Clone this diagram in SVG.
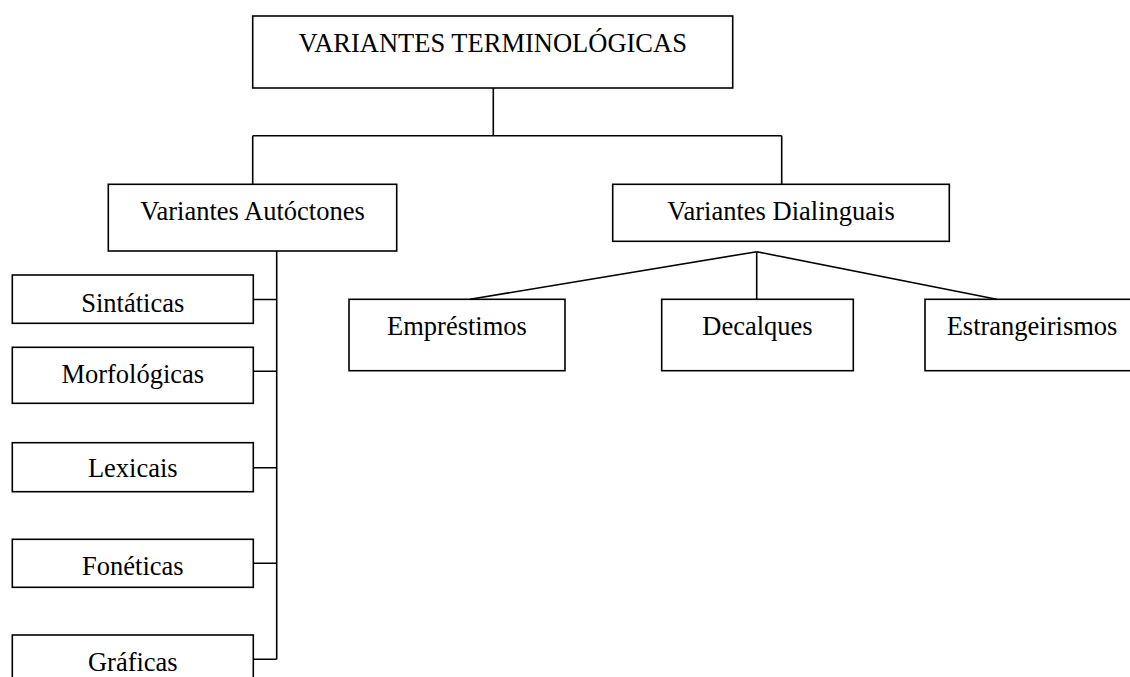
<svg xmlns="http://www.w3.org/2000/svg" width="1130" height="677" viewBox="0 0 1130 677">
  <style>
    .box { fill: #ffffff; stroke: #000000; stroke-width: 1.6; }
    .lbl { font-family: "Liberation Serif", "Times New Roman", serif; font-size: 26.5px; fill: #000000; text-anchor: middle; }
    .wire { fill: none; stroke: #000000; stroke-width: 1.6; }
  </style>
  <rect width="1130" height="677" fill="#ffffff"/>

  <!-- connectors -->
  <g id="connectors">
    <path class="wire" d="M493.3,88 V135.7 M252.7,135.7 H781.7 M252.7,135.7 V184.3 M781.7,135.7 V184.3"/>
    <path class="wire" d="M276.7,251 V659.3 M253.3,299.5 H276.7 M253.3,371.3 H276.7 M253.3,467.8 H276.7 M253.3,563.3 H276.7 M253.3,659.3 H276.7"/>
    <path class="wire" d="M756.7,251.7 L470,299.3 M756.7,251.7 V299.3 M756.7,251.7 L996.7,299.3"/>
  </g>

  <!-- root -->
  <g id="root">
    <rect class="box" x="252.7" y="16" width="480" height="72"/>
    <text class="lbl" x="492.7" y="51.7">VARIANTES TERMINOLÓGICAS</text>
  </g>

  <!-- second level -->
  <g id="autoctones">
    <rect class="box" x="108.3" y="184.3" width="288.4" height="66.7"/>
    <text class="lbl" x="252.5" y="220">Variantes Autóctones</text>
  </g>
  <g id="dialinguais">
    <rect class="box" x="612.7" y="184.3" width="336.6" height="57"/>
    <text class="lbl" x="781" y="220">Variantes Dialinguais</text>
  </g>

  <!-- autochthonous subtypes -->
  <g id="sintaticas">
    <rect class="box" x="12.3" y="275" width="241" height="48.3"/>
    <text class="lbl" x="132.8" y="311.7">Sintáticas</text>
  </g>
  <g id="morfologicas">
    <rect class="box" x="12.3" y="347.3" width="241" height="56"/>
    <text class="lbl" x="132.8" y="383.3">Morfológicas</text>
  </g>
  <g id="lexicais">
    <rect class="box" x="12.3" y="442.7" width="241" height="49"/>
    <text class="lbl" x="132.8" y="477.3">Lexicais</text>
  </g>
  <g id="foneticas">
    <rect class="box" x="12.3" y="539.3" width="241" height="48"/>
    <text class="lbl" x="132.8" y="575">Fonéticas</text>
  </g>
  <g id="graficas">
    <rect class="box" x="12.3" y="635" width="241" height="70"/>
    <text class="lbl" x="132.8" y="670.7">Gráficas</text>
  </g>

  <!-- interlingual subtypes -->
  <g id="emprestimos">
    <rect class="box" x="349" y="299.3" width="216" height="71.4"/>
    <text class="lbl" x="457" y="335">Empréstimos</text>
  </g>
  <g id="decalques">
    <rect class="box" x="661.7" y="299.3" width="191.6" height="71.4"/>
    <text class="lbl" x="757.5" y="335">Decalques</text>
  </g>
  <g id="estrangeirismos">
    <rect class="box" x="925" y="299.3" width="214" height="71.4"/>
    <text class="lbl" x="1032" y="335">Estrangeirismos</text>
  </g>
</svg>
